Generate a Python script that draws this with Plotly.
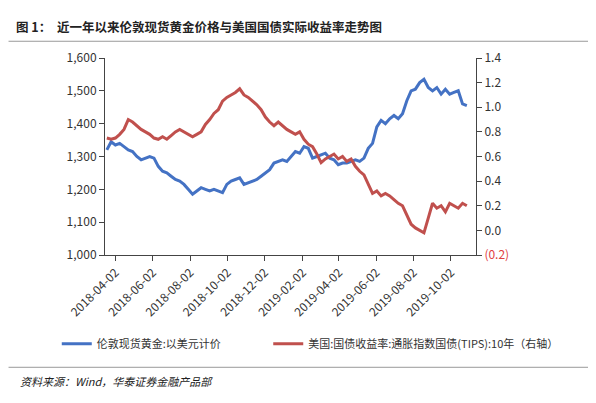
import plotly.graph_objects as go
import pandas as pd

gold = [1320,1345,
1335,1340,1330,1320, 1315,1300,1290,1295, 1300,1295,1270,1255, 1250,1240,1230,1225,
1215,1200,1185,1195,1205, 1200,1195,1200,1195, 1190,1215,1225,1230, 1235,1215,1220,1225,
1230,1240,1250,1260,1280, 1285,1290,1285,1300, 1315,1310,1330,1325, 1295,1300,1305,1310,
1295,1290,1275,1280,1280, 1285,1290,1285,1295, 1325,1340,1390,1410, 1400,1415,1425,1415,1430,
1470,1500,1505,1525, 1535,1510,1500,1510,1490, 1505,1490,1495,1500, 1460,1455]
tips = [0.75,0.74,
0.75,0.78,0.82,0.90, 0.88,0.85,0.82,0.80, 0.78,0.75,0.74,0.76, 0.74,0.77,0.80,0.82,
0.80,0.78,0.76,0.78,0.80, 0.86,0.90,0.95,0.98, 1.05,1.08,1.10,1.12, 1.15,1.10,1.08,1.05,
1.02,0.98,0.92,0.88,0.85, 0.88,0.85,0.82,0.80, 0.78,0.80,0.74,0.70, 0.68,0.62,0.55,0.58,
0.60,0.62,0.58,0.60,0.56, 0.58,0.52,0.48,0.45, 0.38,0.30,0.32,0.28, 0.30,0.28,0.25,0.22,0.20,
0.12,0.05,0.02,0.00, -0.02,0.10,0.22,0.18,0.20, 0.15,0.22,0.20,0.18, 0.22,0.20]
dates = pd.date_range("2018-03-19", periods=len(gold), freq="7D")
xticks = ["2018-04-02","2018-06-02","2018-08-02","2018-10-02","2018-12-02","2019-02-02",
          "2019-04-02","2019-06-02","2019-08-02","2019-10-02"]
rvals = [-0.2,0,0.2,0.4,0.6,0.8,1.0,1.2,1.4]
rtext = ["<span style='color:#E04040'>(0.2)</span>","0.0","0.2","0.4","0.6","0.8","1.0","1.2","1.4"]

fig = go.Figure()
fig.add_trace(go.Scatter(x=dates, y=gold, name="伦敦现货黄金:以美元计价", line=dict(color="#4472C4", width=3),
                         legend="legend"))
fig.add_trace(go.Scatter(x=dates, y=tips, name="美国:国债收益率:通胀指数国债(TIPS):10年（右轴）",
                         yaxis="y2", line=dict(color="#C0504D", width=3), legend="legend2"))
fig.update_layout(
    width=596, height=403, paper_bgcolor="white", plot_bgcolor="white",
    margin=dict(l=97, r=128, t=50, b=156),
    font=dict(family="Noto Sans CJK SC", size=12, color="#333"),
    xaxis=dict(range=["2018-03-16","2019-11-12"], tickvals=xticks, ticktext=xticks, tickangle=-45,
               showline=True, linecolor="#444", ticks="outside", tickcolor="#444", showgrid=False),
    yaxis=dict(range=[1000,1600], dtick=100, tickformat=",", showline=True, linecolor="#444",
               ticks="outside", tickcolor="#444", showgrid=False),
    yaxis2=dict(range=[-0.2,1.4], overlaying="y", side="right", tickvals=rvals, ticktext=rtext,
                showline=True, linecolor="#444", ticks="outside", tickcolor="#444", showgrid=False),
    legend=dict(orientation="h", x=-0.13, xanchor="left", y=-0.45, yanchor="middle", font=dict(size=11)),
    legend2=dict(orientation="h", x=0.44, xanchor="left", y=-0.45, yanchor="middle", font=dict(size=11)),
    showlegend=True,
)
fig.add_annotation(text="<b>图 1：  近一年以来伦敦现货黄金价格与美国国债实际收益率走势图</b>", xref="paper", yref="paper",
                   x=-0.245, xanchor="left", y=1.16, yanchor="middle", showarrow=False, font=dict(size=12.5, color="#222"))
fig.add_annotation(text="<i>资料来源：Wind，华泰证券金融产品部</i>", xref="paper", yref="paper",
                   x=-0.235, xanchor="left", y=-0.64, yanchor="middle", showarrow=False, font=dict(size=11, color="#222"))
fig.add_shape(type="line", xref="paper", yref="paper", x0=-0.26, x1=1.33, y0=1.085, y1=1.085, line=dict(color="#999", width=1))
fig.add_shape(type="line", xref="paper", yref="paper", x0=-0.26, x1=1.33, y0=-0.57, y1=-0.57,
              line=dict(color="#999", width=1))
fig.write_html("out.html")
